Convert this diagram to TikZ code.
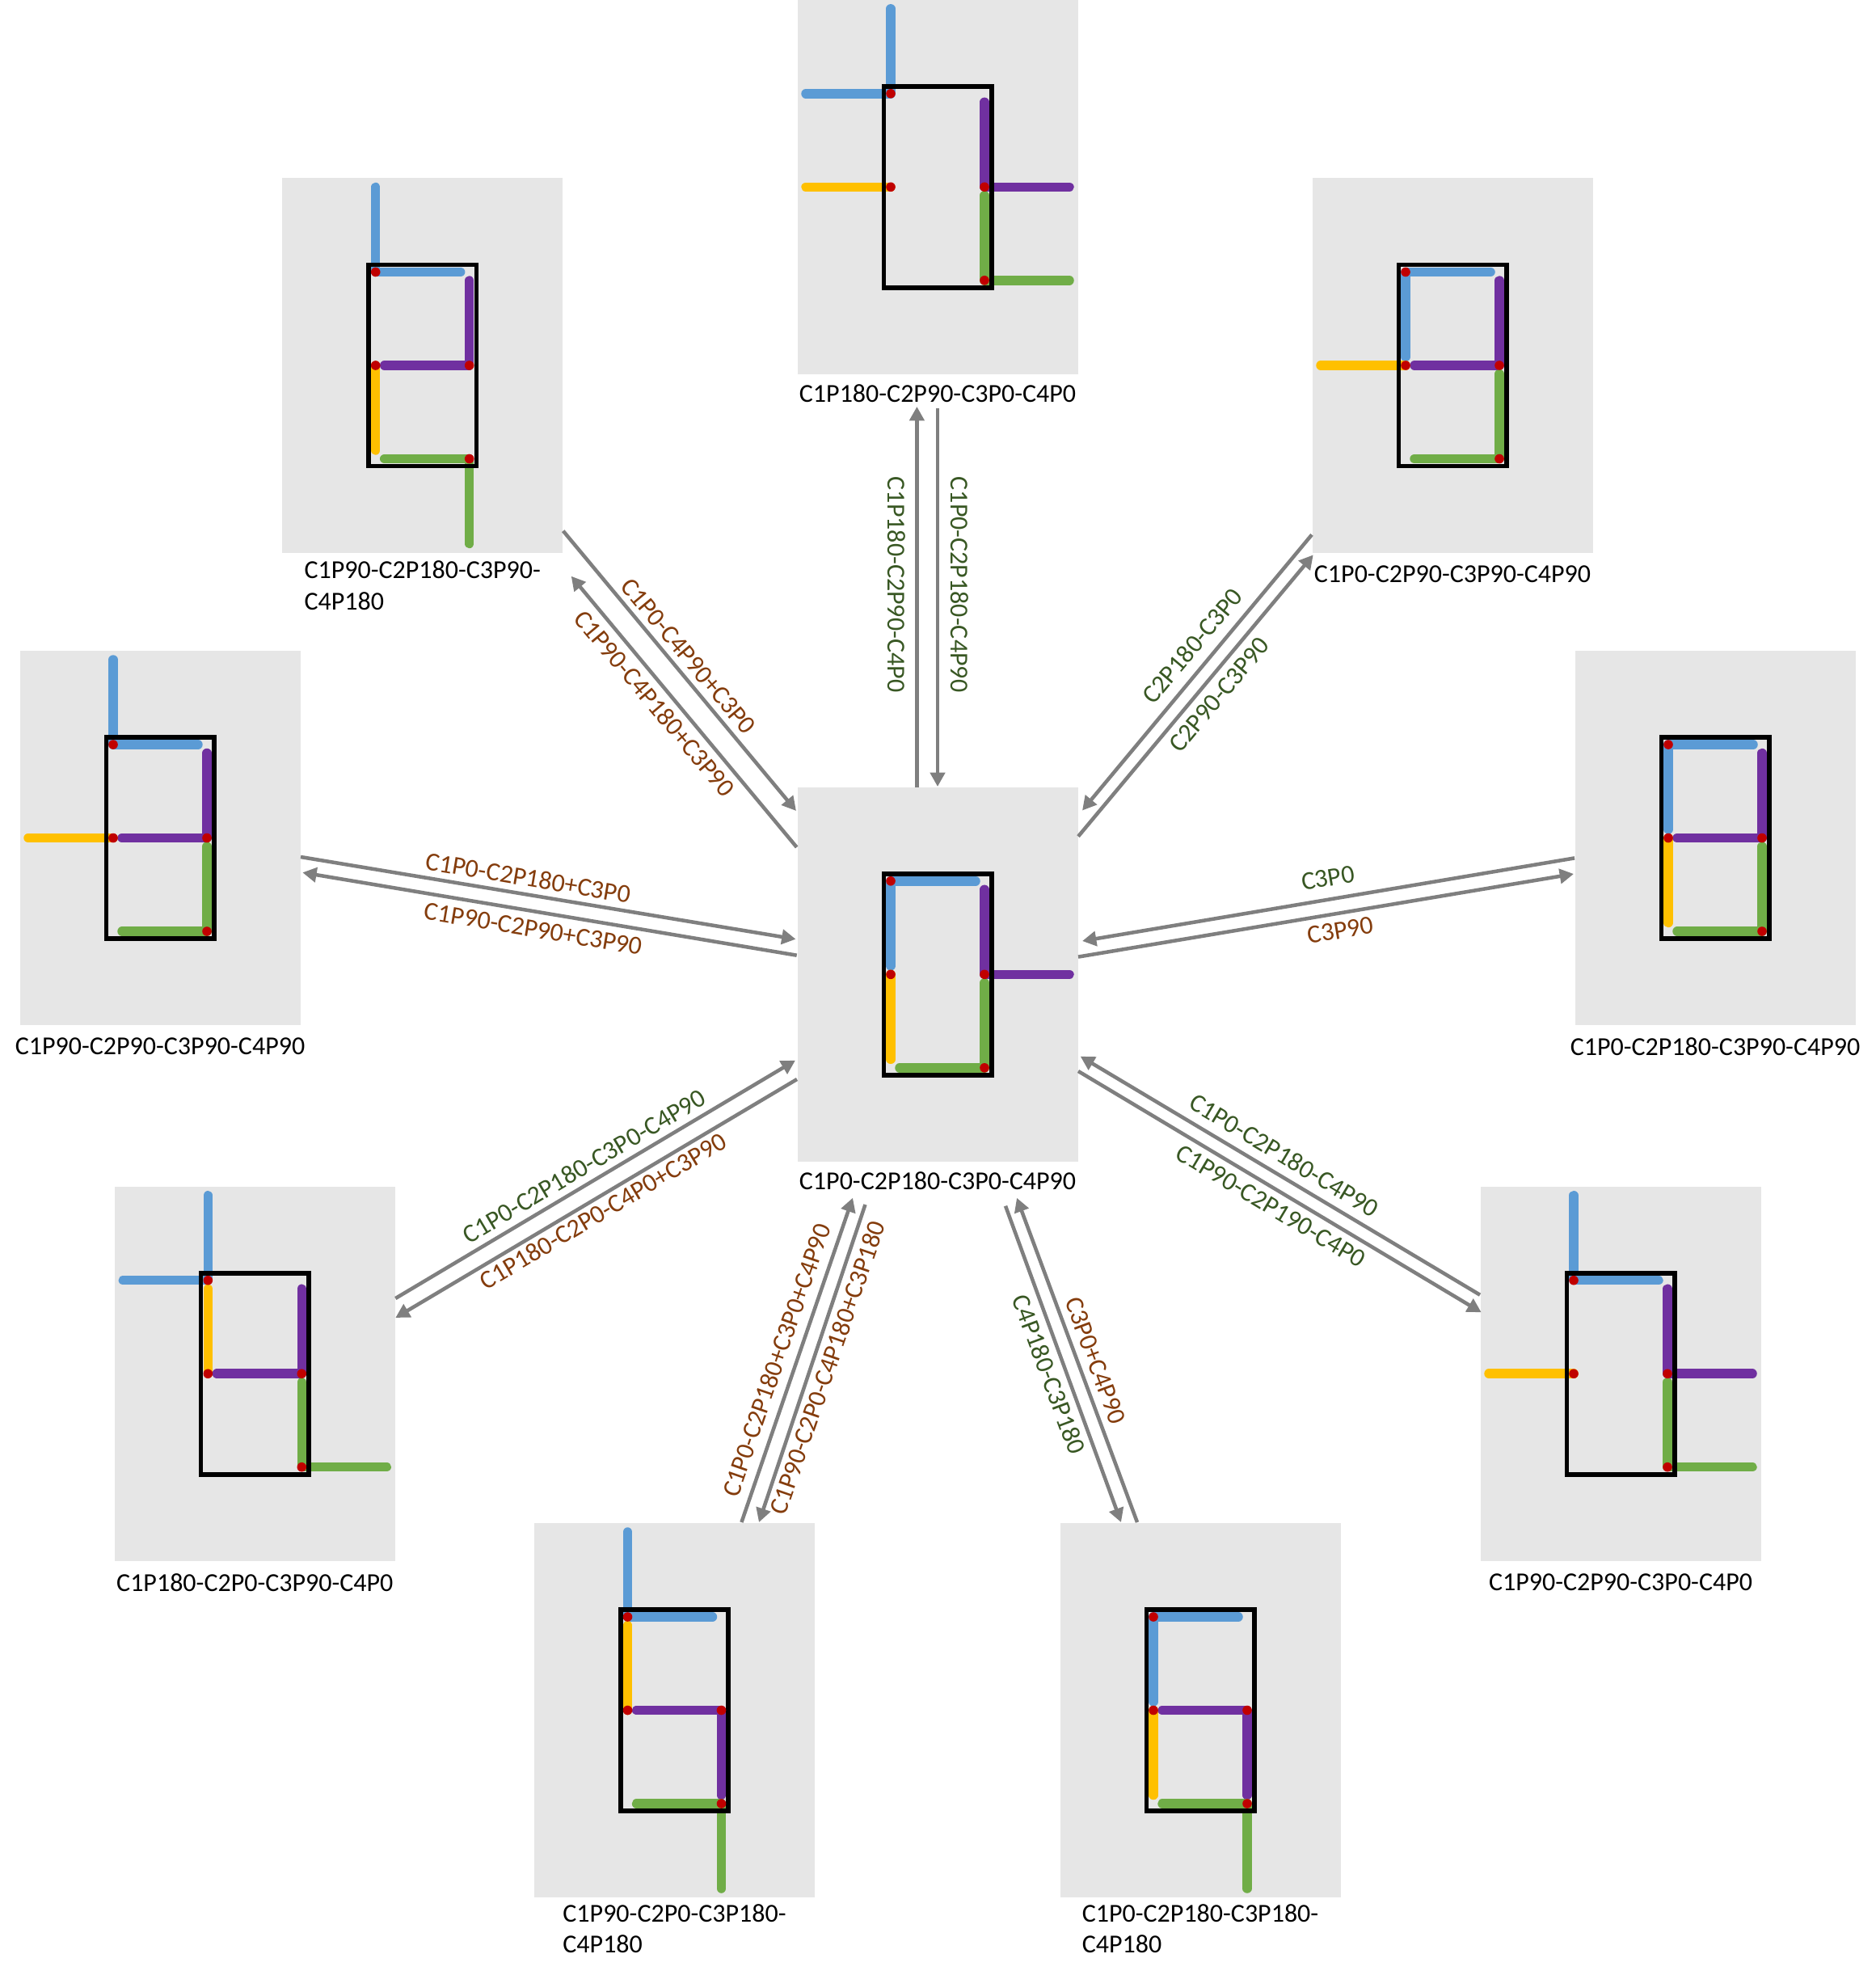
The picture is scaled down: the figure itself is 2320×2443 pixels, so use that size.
\documentclass[tikz,border=0pt]{standalone}
\usepackage{fontspec}
\setmainfont{Carlito}
\usetikzlibrary{positioning,arrows.meta}

\definecolor{panelgray}{HTML}{E6E6E6}
\definecolor{flowgray}{HTML}{7F7F7F}
\definecolor{labgreen}{HTML}{385723}
\definecolor{labbrown}{HTML}{843C0C}
\definecolor{armblue}{HTML}{5B9BD5}
\definecolor{armyellow}{HTML}{FFC000}
\definecolor{armpurple}{HTML}{7030A0}
\definecolor{armgreen}{HTML}{70AD47}
\definecolor{pivotred}{HTML}{C00000}

\tikzset{
	panel/.style={fill=panelgray, minimum width=260.25pt, minimum height=347.25pt, inner sep=0pt},
	arm/.style={line width=8.6pt, line cap=round, line join=round},
	frame/.style={draw=black, line width=4.2pt},
	pivot/.style={fill=pivotred},
	flow/.style={draw=flowgray, line width=3.4pt, -{Triangle[length=13pt,width=13.5pt]}},
	caption/.style={font=\fontsize{24}{28.8}\selectfont, inner sep=0pt, align=left},
	lab/.style={font=\fontsize{24}{29.3}\selectfont, inner sep=0pt},
	labg/.style={lab, text=labgreen},
	labb/.style={lab, text=labbrown}
}

% name, x, y, angles of C1 C2 C3 C4
\newcommand{\linkage}[7]{
	\node[panel] (#1) at (#2,#3) {};
	\begin{scope}[shift={(#2,#3)}]
		\draw[arm, armblue] (-58,-115.5) +(-#4:105) -- +(0,0) -- +(90-#4:105);
		\draw[arm, armyellow] (-58,0) -- +(-90-#5:105);
		\draw[arm, armpurple] (58,0) +(-#6:105) -- +(0,0) -- +(-90-#6:105);
		\draw[arm, armgreen] (58,115.5) +(-#7:105) -- +(0,0) -- +(-90-#7:105);
		\draw[frame] (-66.7,-124.5) rectangle (66.7,124.5);
		\foreach \px/\py in {-58/-115.5, -58/0, 58/0, 58/115.5}
			\fill[pivot] (\px,\py) circle (5.8);
	\end{scope}
}

\begin{document}
\begin{tikzpicture}[x=0.75pt, y=-0.75pt]
	\useasboundingbox (0,0) rectangle (2320,2443);

	\linkage{c}{1160}{1205.3}{0}{180}{0}{90}
	\linkage{t}{1160}{231.3}{180}{90}{0}{0}
	\linkage{ul}{522.7}{452}{90}{180}{90}{180}
	\linkage{ur}{1797}{452}{0}{90}{90}{90}
	\linkage{l}{198}{1036.5}{90}{90}{90}{90}
	\linkage{r}{2122}{1036.5}{0}{180}{90}{90}
	\linkage{ll}{315.3}{1699.2}{180}{0}{90}{0}
	\linkage{lr}{2005}{1699.2}{90}{90}{0}{0}
	\linkage{bl}{834.5}{2115.5}{90}{0}{180}{180}
	\linkage{br}{1485}{2115.5}{0}{180}{180}{180}

	\node[caption, below=9.5pt of c] (ccap) {C1P0-C2P180-C3P0-C4P90};
	\node[caption, below=9.5pt of t] (tcap) {C1P180-C2P90-C3P0-C4P0};
	\node[caption, below=7.5pt of ul] (ulcap) {C1P90-C2P180-C3P90-\\C4P180};
	\node[caption, below=11.5pt of ur] (urcap) {C1P0-C2P90-C3P90-C4P90};
	\node[caption, below=11.5pt of l] (lcap) {C1P90-C2P90-C3P90-C4P90};
	\node[caption, below=11.5pt of r] (rcap) {C1P0-C2P180-C3P90-C4P90};
	\node[caption, below=11.5pt of ll] (llcap) {C1P180-C2P0-C3P90-C4P0};
	\node[caption, below=11.5pt of lr] (lrcap) {C1P90-C2P90-C3P0-C4P0};
	\node[caption, below=6pt of bl] (blcap) {C1P90-C2P0-C3P180-\\C4P180};
	\node[caption, below=6pt of br] (brcap) {C1P0-C2P180-C3P180-\\C4P180};

	% top
	\draw[flow] ([shift={(-25.6,-231.5)}]c.center) -- ([shift={(-25.6,271.7)}]t.center);
	\draw[flow] ([shift={(0,273.7)}]t.center) -- ([shift={(0,-232.3)}]c.center);
	% upper left
	\draw[flow] ([shift={(174,204.7)}]ul.center) -- ([shift={(-175,-202.3)}]c.center);
	\draw[flow] ([shift={(-174.3,-157.3)}]c.center) -- ([shift={(184,260.7)}]ul.center);
	% upper right
	\draw[flow] ([shift={(-174,209.4)}]ur.center) -- ([shift={(179,-202.8)}]c.center);
	\draw[flow] ([shift={(174,-170.7)}]c.center) -- ([shift={(-172.3,234.4)}]ur.center);
	% left
	\draw[flow] ([shift={(174,23.5)}]l.center) -- ([shift={(-175.5,-43.6)}]c.center);
	\draw[flow] ([shift={(-174.3,-23.6)}]c.center) -- ([shift={(176.3,42.8)}]l.center);
	% right
	\draw[flow] ([shift={(-174,24.9)}]r.center) -- ([shift={(179,-41.3)}]c.center);
	\draw[flow] ([shift={(174,-21.7)}]c.center) -- ([shift={(-175,44.5)}]r.center);
	% lower left
	\draw[flow] ([shift={(174,-93.2)}]ll.center) -- ([shift={(-176,106.4)}]c.center);
	\draw[flow] ([shift={(-174,129.7)}]c.center) -- ([shift={(174,-69.2)}]ll.center);
	% lower right
	\draw[flow] ([shift={(-174,-97.5)}]lr.center) -- ([shift={(176.7,101.4)}]c.center);
	\draw[flow] ([shift={(174,119.7)}]c.center) -- ([shift={(-172.3,-75.9)}]lr.center);
	% bottom left
	\draw[flow] ([shift={(82.9,-232.5)}]bl.center) -- ([shift={(-105,276.4)}]c.center);
	\draw[flow] ([shift={(-89.5,284.7)}]c.center) -- ([shift={(104.5,-232.5)}]bl.center);
	% bottom right
	\draw[flow] ([shift={(-78,-232.5)}]br.center) -- ([shift={(98,276.4)}]c.center);
	\draw[flow] ([shift={(84,286.4)}]c.center) -- ([shift={(-98,-232.5)}]br.center);

	\node[labg, rotate=-90] (lab1) at (1109,723) {C1P180-C2P90-C4P0};
	\node[labg, rotate=-90] (lab2) at (1187,723) {C1P0-C2P180-C4P90};
	\node[labb, rotate=-50] (lab3) at (851.7,811.7) {C1P0-C4P90+C3P0};
	\node[labb, rotate=-50] (lab4) at (810,870) {C1P90-C4P180+C3P90};
	\node[labg, rotate=50] (lab5) at (1475,799) {C2P180-C3P0};
	\node[labg, rotate=50] (lab6) at (1508.4,859.6) {C2P90-C3P90};
	\node[labb, rotate=-9.5] (lab7) at (653.6,1085.7) {C1P0-C2P180+C3P0};
	\node[labb, rotate=-9.5] (lab8) at (660,1149) {C1P90-C2P90+C3P90};
	\node[labg, rotate=9.5] (lab9) at (1643,1086) {C3P0};
	\node[labb, rotate=9.5] (lab10) at (1658.6,1150.7) {C3P90};
	\node[labg, rotate=30.7] (lab11) at (722.5,1442.5) {C1P0-C2P180-C3P0-C4P90};
	\node[labb, rotate=30.7] (lab12) at (745.8,1498) {C1P180-C2P0-C4P0+C3P90};
	\node[labg, rotate=-30.9] (lab13) at (1589,1429) {C1P0-C2P180-C4P90};
	\node[labg, rotate=-30.9] (lab14) at (1572.5,1491.7) {C1P90-C2P190-C4P0};
	\node[labb, rotate=71] (lab15) at (960.5,1682.5) {C1P0-C2P180+C3P0+C4P90};
	\node[labb, rotate=71] (lab16) at (1023.6,1691.7) {C1P90-C2P0-C4P180+C3P180};
	\node[labg, rotate=-69.6] (lab17) at (1298,1700) {C4P180-C3P180};
	\node[labb, rotate=-69.6] (lab18) at (1355.6,1683) {C3P0+C4P90};
\end{tikzpicture}
\end{document}
